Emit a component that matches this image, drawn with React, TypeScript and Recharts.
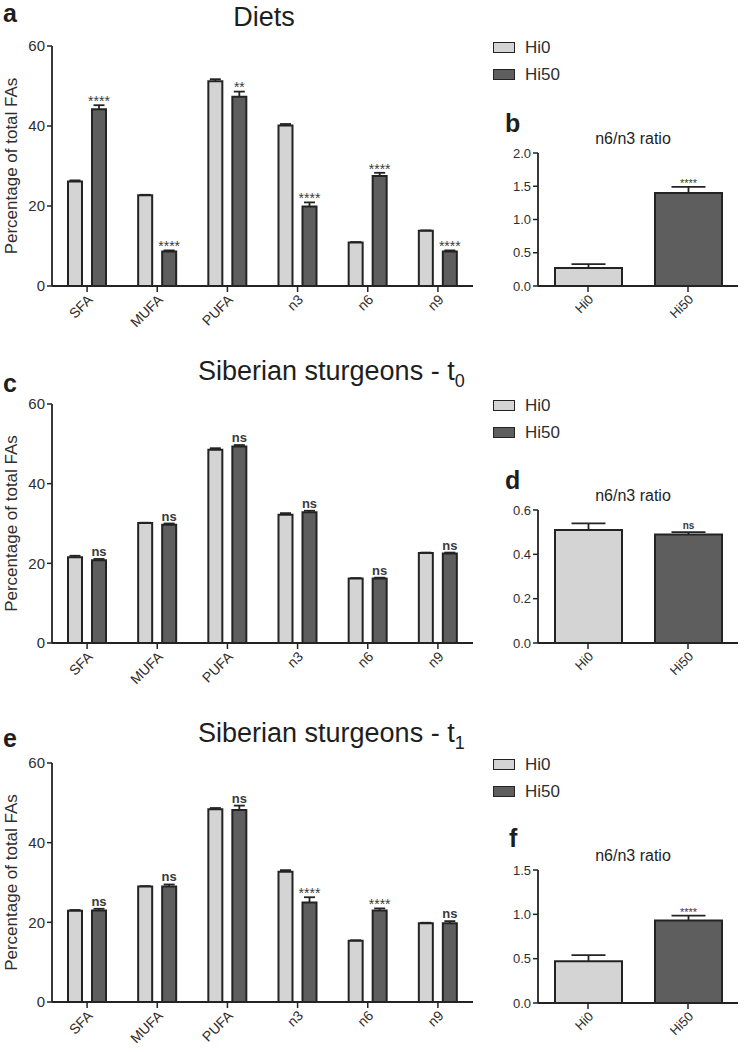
import { Bar, BarChart, Cell, LabelList, Legend, XAxis, YAxis } from "recharts";

// fatty acid classes and groups
const fattyAcids = ["SFA", "MUFA", "PUFA", "n3", "n6", "n9"];
const groups = ["Hi0", "Hi50"];

// a - diets
const dietHi0 = [26.1, 22.7, 51.2, 40.1, 10.9, 13.8];
const dietHi0Err = [0.3, 0.1, 0.5, 0.4, 0.1, 0.1];
const dietHi50 = [44.2, 8.6, 47.3, 19.9, 27.5, 8.6];
const dietHi50Err = [1.0, 0.3, 1.3, 1.0, 0.8, 0.3];
const dietSig = ["****", "****", "**", "****", "****", "****"];

// c - sturgeons t0
const t0Hi0 = [21.5, 30.1, 48.5, 32.2, 16.2, 22.6];
const t0Hi0Err = [0.4, 0.1, 0.4, 0.4, 0.1, 0.1];
const t0Hi50 = [20.8, 29.7, 49.3, 32.8, 16.2, 22.5];
const t0Hi50Err = [0.3, 0.3, 0.4, 0.4, 0.2, 0.2];
const t0Sig = ["ns", "ns", "ns", "ns", "ns", "ns"];

// e - sturgeons t1
const t1Hi0 = [22.9, 29.0, 48.4, 32.7, 15.4, 19.8];
const t1Hi0Err = [0.2, 0.1, 0.3, 0.4, 0.1, 0.1];
const t1Hi50 = [23.0, 29.0, 48.2, 25.0, 23.0, 19.8];
const t1Hi50Err = [0.4, 0.5, 1.1, 1.3, 0.5, 0.5];
const t1Sig = ["ns", "ns", "ns", "****", "****", "ns"];

// b, d, f - n6/n3 ratio
const dietRatio = [0.27, 1.4];
const dietRatioErr = [0.06, 0.09];
const dietRatioSig = ["", "****"];
const t0Ratio = [0.51, 0.49];
const t0RatioErr = [0.03, 0.01];
const t0RatioSig = ["", "ns"];
const t1Ratio = [0.47, 0.93];
const t1RatioErr = [0.07, 0.055];
const t1RatioSig = ["", "****"];

const faTicks = [0, 20, 40, 60];
const dietRatioTicks = [0, 0.5, 1, 1.5, 2];
const t0RatioTicks = [0, 0.2, 0.4, 0.6];
const t1RatioTicks = [0, 0.5, 1, 1.5];

const LIGHT = "#d4d4d4";
const DARK = "#5e5e5e";
const INK = "#232323";
const TEXT = "#2e2e2e";
const FONT = '"Liberation Sans", Arial, sans-serif';

function faRows(hi0: number[], hi0Err: number[], hi50: number[], hi50Err: number[], sig: string[]) {
  return fattyAcids.map((name, i) => ({
    name,
    hi0: hi0[i],
    hi0Err: hi0Err[i],
    hi50: hi50[i],
    hi50Err: hi50Err[i],
    hi50Sig: sig[i]
  }));
}

function ratioRows(values: number[], errs: number[], sig: string[]) {
  return groups.map((name, i) => ({ name, value: values[i], err: errs[i], sig: sig[i] }));
}

// error segment drawn as an upward whisker with a cap
const whisker = (cap: number) => (props: any) => {
  const { x, y, width, height } = props;
  if (x == null || y == null) return <g />;
  const cx = x + width / 2;
  return (
    <g>
      <line x1={cx} x2={cx} y1={y + height} y2={y} stroke={INK} strokeWidth={1.8} />
      <line x1={cx - cap / 2} x2={cx + cap / 2} y1={y} y2={y} stroke={INK} strokeWidth={1.8} />
    </g>
  );
};

const sigLabel = (size: number) => (props: any) => {
  const { x, y, width, value } = props;
  if (!value) return null;
  const star = String(value).startsWith("*");
  return (
    <text
      x={x + width / 2}
      y={star ? y + size * 0.05 : y - 3}
      textAnchor="middle"
      fontSize={star ? size : size - 1}
      fontWeight={star ? 400 : 700}
      fill="#3a3a3a"
      fontFamily={FONT}
    >
      {value}
    </text>
  );
};

const slantTick = (size: number) => (props: any) => {
  const { x, y, payload } = props;
  const ax = x + 3;
  const ay = y + 3;
  return (
    <text
      x={ax}
      y={ay}
      transform={`rotate(-45 ${ax} ${ay})`}
      textAnchor="end"
      dominantBaseline="central"
      fontSize={size}
      fill={TEXT}
      fontFamily={FONT}
    >
      {payload.value}
    </text>
  );
};

const yTitle = (props: any) => {
  const vb = props.viewBox;
  const cx = vb.x + 11;
  const cy = vb.y + vb.height / 2;
  return (
    <text
      x={cx}
      y={cy}
      transform={`rotate(-90 ${cx} ${cy})`}
      textAnchor="middle"
      dominantBaseline="central"
      fontSize={17}
      fill={TEXT}
      fontFamily={FONT}
    >
      Percentage of total FAs
    </text>
  );
};

const legendBox = (props: any) => (
  <div style={{ fontFamily: FONT }}>
    {(props.payload || [])
      .filter((p: any) => groups.includes(p.value))
      .map((p: any) => (
        <div key={p.value} style={{ display: "flex", alignItems: "center", height: 27 }}>
          <span
            style={{
              width: 22,
              height: 11,
              boxSizing: "border-box",
              background: p.color,
              border: `1.8px solid ${INK}`,
              display: "inline-block"
            }}
          />
          <span style={{ marginLeft: 10, fontSize: 17, color: TEXT }}>{p.value}</span>
        </div>
      ))}
  </div>
);

function FaChart({
  data,
  top,
  height,
  margin,
  legendTop
}: {
  data: ReturnType<typeof faRows>;
  top: number;
  height: number;
  margin: { top: number; bottom: number };
  legendTop: number;
}) {
  return (
    <div style={{ position: "absolute", left: 0, top }}>
      <BarChart
        width={480}
        height={height}
        data={data}
        margin={{ top: margin.top, right: 7, left: 0, bottom: margin.bottom }}
        barSize={14}
        barGap={10}
      >
        <XAxis
          dataKey="name"
          height={40}
          interval={0}
          tick={slantTick(14)}
          tickSize={6}
          axisLine={{ stroke: INK, strokeWidth: 1.8 }}
          tickLine={{ stroke: INK, strokeWidth: 1.5 }}
        />
        <YAxis
          width={52}
          domain={[0, 60]}
          ticks={faTicks}
          tickSize={5}
          tick={{ fill: TEXT, fontSize: 15, fontFamily: FONT }}
          axisLine={{ stroke: INK, strokeWidth: 1.8 }}
          tickLine={{ stroke: INK, strokeWidth: 1.5 }}
          label={{ value: "Percentage of total FAs", content: yTitle }}
        />
        <Legend
          layout="vertical"
          align="center"
          verticalAlign="middle"
          content={legendBox}
          wrapperStyle={{ left: 493, top: legendTop, width: 120, height: 54 }}
        />
        <Bar dataKey="hi0" name="Hi0" stackId="l" fill={LIGHT} stroke={INK} strokeWidth={2} isAnimationActive={false} />
        <Bar dataKey="hi0Err" stackId="l" legendType="none" shape={whisker(11)} isAnimationActive={false} />
        <Bar dataKey="hi50" name="Hi50" stackId="h" fill={DARK} stroke={INK} strokeWidth={2} isAnimationActive={false} />
        <Bar dataKey="hi50Err" stackId="h" legendType="none" shape={whisker(11)} isAnimationActive={false}>
          <LabelList dataKey="hi50Sig" content={sigLabel(14)} />
        </Bar>
      </BarChart>
    </div>
  );
}

function RatioChart({
  data,
  top,
  height,
  margin,
  domain,
  ticks
}: {
  data: ReturnType<typeof ratioRows>;
  top: number;
  height: number;
  margin: { top: number; bottom: number };
  domain: [number, number];
  ticks: number[];
}) {
  return (
    <div style={{ position: "absolute", left: 480, top }}>
      <BarChart
        width={269}
        height={height}
        data={data}
        margin={{ top: margin.top, right: 11, left: 0, bottom: margin.bottom }}
        barSize={67}
      >
        <XAxis
          dataKey="name"
          height={40}
          interval={0}
          tick={slantTick(13)}
          tickSize={6}
          axisLine={{ stroke: INK, strokeWidth: 1.8 }}
          tickLine={{ stroke: INK, strokeWidth: 1.5 }}
        />
        <YAxis
          width={58}
          domain={domain}
          ticks={ticks}
          tickSize={5}
          tickFormatter={(v) => Number(v).toFixed(1)}
          tick={{ fill: TEXT, fontSize: 13, fontFamily: FONT }}
          axisLine={{ stroke: INK, strokeWidth: 1.8 }}
          tickLine={{ stroke: INK, strokeWidth: 1.5 }}
        />
        <Bar dataKey="value" stackId="r" stroke={INK} strokeWidth={2} isAnimationActive={false}>
          {data.map((row, i) => (
            <Cell key={row.name} fill={i === 0 ? LIGHT : DARK} />
          ))}
        </Bar>
        <Bar dataKey="err" stackId="r" legendType="none" shape={whisker(34)} isAnimationActive={false}>
          <LabelList dataKey="sig" content={sigLabel(11)} />
        </Bar>
      </BarChart>
    </div>
  );
}

export default function App() {
  const titleStyle = { fontFamily: FONT, fill: "#1e1e1e" };
  return (
    <div style={{ position: "absolute", left: 0, top: 0, width: 749, height: 1052, background: "#fff" }}>
      <FaChart
        data={faRows(dietHi0, dietHi0Err, dietHi50, dietHi50Err, dietSig)}
        top={0}
        height={330}
        margin={{ top: 46, bottom: 4 }}
        legendTop={34}
      />
      <RatioChart
        data={ratioRows(dietRatio, dietRatioErr, dietRatioSig)}
        top={100}
        height={230}
        margin={{ top: 53, bottom: 4 }}
        domain={[0, 2]}
        ticks={dietRatioTicks}
      />
      <FaChart
        data={faRows(t0Hi0, t0Hi0Err, t0Hi50, t0Hi50Err, t0Sig)}
        top={330}
        height={360}
        margin={{ top: 74, bottom: 7 }}
        legendTop={62}
      />
      <RatioChart
        data={ratioRows(t0Ratio, t0RatioErr, t0RatioSig)}
        top={460}
        height={230}
        margin={{ top: 50, bottom: 7 }}
        domain={[0, 0.6]}
        ticks={t0RatioTicks}
      />
      <FaChart
        data={faRows(t1Hi0, t1Hi0Err, t1Hi50, t1Hi50Err, t1Sig)}
        top={690}
        height={362}
        margin={{ top: 73, bottom: 10 }}
        legendTop={61}
      />
      <RatioChart
        data={ratioRows(t1Ratio, t1RatioErr, t1RatioSig)}
        top={820}
        height={232}
        margin={{ top: 50, bottom: 9 }}
        domain={[0, 1.5]}
        ticks={t1RatioTicks}
      />

      {/* panel letters and titles */}
      <svg width={749} height={1052} style={{ position: "absolute", left: 0, top: 0, pointerEvents: "none" }}>
        <g fontWeight={700} fontSize={25} style={titleStyle}>
          <text x={3} y={22}>a</text>
          <text x={505} y={132}>b</text>
          <text x={3} y={392}>c</text>
          <text x={505} y={489}>d</text>
          <text x={3} y={747}>e</text>
          <text x={509} y={847}>f</text>
        </g>
        <g fontSize={27} style={titleStyle}>
          <text x={264} y={26} textAnchor="middle">Diets</text>
          <text x={198} y={380}>
            Siberian sturgeons - t<tspan fontSize={18} dy={7}>0</tspan>
          </text>
          <text x={198} y={742}>
            Siberian sturgeons - t<tspan fontSize={18} dy={7}>1</tspan>
          </text>
        </g>
        <g fontSize={16} textAnchor="middle" style={titleStyle}>
          <text x={633} y={144}>n6/n3 ratio</text>
          <text x={633} y={501}>n6/n3 ratio</text>
          <text x={633} y={861}>n6/n3 ratio</text>
        </g>
      </svg>
    </div>
  );
}
